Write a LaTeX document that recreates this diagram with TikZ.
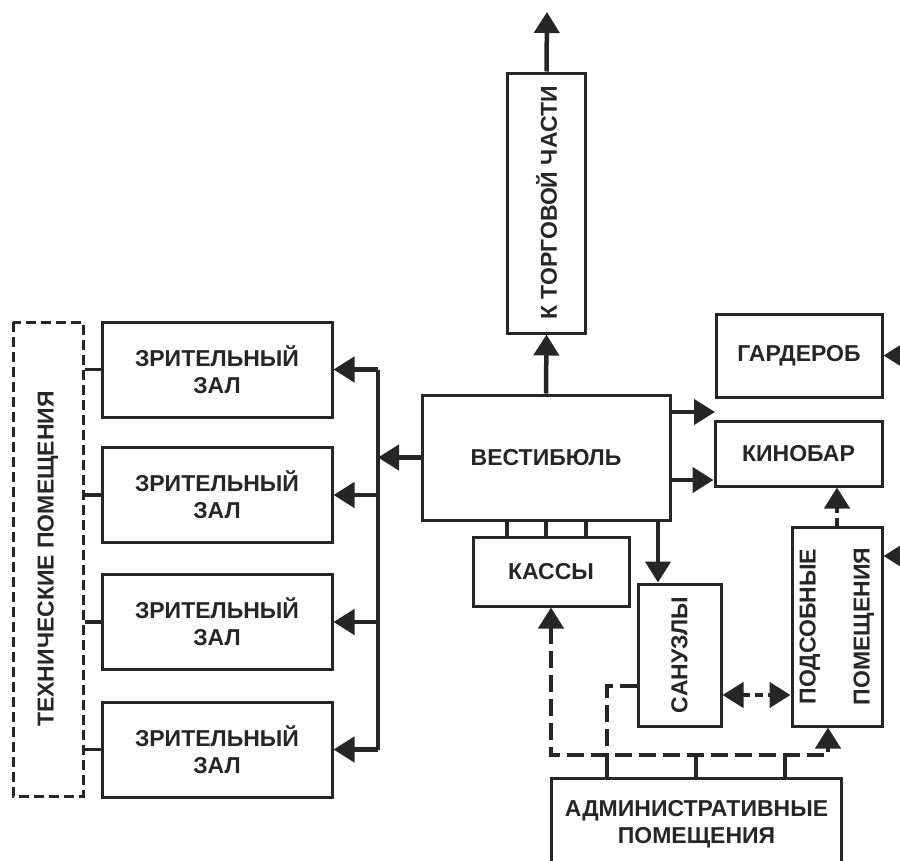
\documentclass[tikz,border=0pt]{standalone}
\usepackage{fontspec}
\setmainfont{Liberation Sans}
\usetikzlibrary{arrows.meta}
\definecolor{ink}{HTML}{262626}
\begin{document}
\begin{tikzpicture}[
    x=1pt, y=-1pt,
    room/.style={draw=ink, line width=3pt, align=center, inner sep=0pt, text=ink,
        font=\bfseries\fontsize{23}{27}\selectfont},
    link/.style={draw=ink, line width=4.5pt},
    thinlink/.style={draw=ink, line width=3.5pt},
    arr/.style={link, -{Triangle[length=21pt,width=25pt]}},
    darr/.style={arr, dash pattern=on 17pt off 7pt},
    >={Triangle[length=21pt,width=25pt]}
]
\useasboundingbox (0,0) rectangle (900,860);
\clip (0,0) rectangle (900,860);

% Помещения
\node[room, rotate=90, dash pattern=on 10pt off 5pt, minimum width=474pt, minimum height=70pt]
    (tech) at (48,559) {ТЕХНИЧЕСКИЕ ПОМЕЩЕНИЯ};
\node[room, minimum width=230pt, minimum height=95pt] (zal1) at (217,369.5) {ЗРИТЕЛЬНЫЙ\\ЗАЛ};
\node[room, minimum width=230pt, minimum height=95pt] (zal2) at (217,495) {ЗРИТЕЛЬНЫЙ\\ЗАЛ};
\node[room, minimum width=230pt, minimum height=95pt] (zal3) at (217,622) {ЗРИТЕЛЬНЫЙ\\ЗАЛ};
\node[room, minimum width=230pt, minimum height=95pt] (zal4) at (217,749.5) {ЗРИТЕЛЬНЫЙ\\ЗАЛ};
\node[room, rotate=90, minimum width=260pt, minimum height=78pt] (torg) at (546.5,203) {К ТОРГОВОЙ ЧАСТИ};
\node[room, minimum width=248pt, minimum height=125pt] (vest) at (546,457.5) {ВЕСТИБЮЛЬ};
\node[room, minimum width=166pt, minimum height=83pt] (gard) at (799,355.5) {ГАРДЕРОБ};
\node[room, minimum width=167pt, minimum height=65pt] (kino) at (798.5,453.5) {КИНОБАР};
\node[room, minimum width=156pt, minimum height=69pt] (kassy) at (551,571.5) {КАССЫ};
\node[room, rotate=90, minimum width=142pt, minimum height=83pt] (san) at (679.5,655) {САНУЗЛЫ};
\node[room, rotate=90, minimum width=199pt, minimum height=90pt] (pods) at (837,626.5) {ПОДСОБНЫЕ\\[27pt]ПОМЕЩЕНИЯ};
\node[room, minimum width=290pt, minimum height=92pt] (admin) at (696.5,824) {АДМИНИСТРАТИВНЫЕ\\ПОМЕЩЕНИЯ};

% Свободные концы
\coordinate (bus) at (378,0);
\coordinate (up) at (547,12);
\coordinate (vr) at (715,412);
\coordinate (gr) at (905,355.5);
\coordinate (pr) at (905,556);
\coordinate (hub) at (0,755);

% Связи
\draw[link] (bus |- zal1) -- (bus |- zal4);
\foreach \z in {zal1,zal2,zal3,zal4} {
    \draw[arr] (bus |- \z) -- (\z.east);
    \draw[thinlink] (tech.south |- \z) -- (\z.west);
}
\draw[arr] (vest.west) -- (bus |- vest);
\draw[arr] (vest.north) -- (torg.west);
\draw[arr] (torg.east) -- (up);
\draw[arr] (vest.east |- vr) -- (vr);
\draw[arr] (vest.east |- 0,480) -- (kino.west |- 0,480);
\draw[arr] (gr) -- (gard.east);
\draw[arr] (pr) -- (pods.south |- pr);
\foreach \x in {507,546,586}
    \draw[thinlink] (\x,0 |- vest.south) -- (\x,0 |- kassy.north);
\draw[arr] (658,0 |- vest.south) -- (658,0 |- san.east);
\draw[arr, dash pattern=on 8pt off 5pt] (pods.east) -- (pods.east |- kino.south);
\draw[arr, dash pattern=on 8pt off 5pt, <->] (san.south |- 0,695) -- (pods.north |- 0,695);
\draw[darr, <->] (kassy.south) -- (kassy.south |- hub) -| (828,0 |- pods.west);
\draw[thinlink, dash pattern=on 17pt off 7pt] (san.north |- 0,686) -| (607,0 |- hub);
\foreach \x in {607,696,785}
    \draw[thinlink] (\x,0 |- hub) -- (\x,0 |- admin.north);
\end{tikzpicture}
\end{document}
